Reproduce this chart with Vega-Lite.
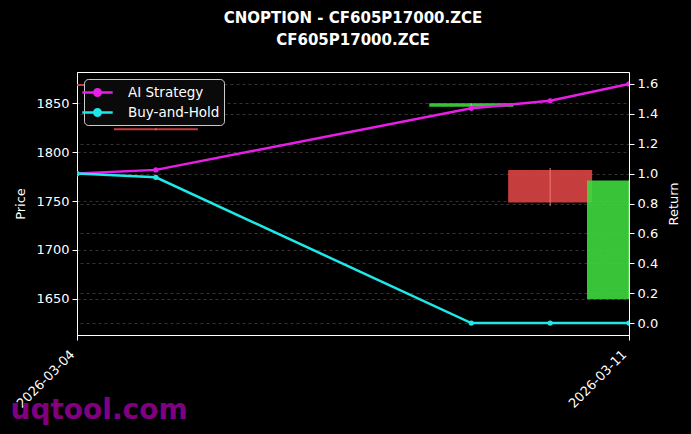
{
  "$schema": "https://vega.github.io/schema/vega-lite/v6.json",
  "autosize": {"type": "none"},
  "width": 552,
  "height": 263,
  "padding": {"left": 77, "top": 72, "right": 62, "bottom": 99},
  "background": "#000000",
  "title": {
    "text": ["CNOPTION - CF605P17000.ZCE", "CF605P17000.ZCE"],
    "font": "DejaVu Sans",
    "fontSize": 15,
    "fontWeight": "bold",
    "color": "#ffffff",
    "lineHeight": 22,
    "anchor": "middle",
    "offset": 24
  },
  "config": {
    "view": {"stroke": "#ffffff", "strokeWidth": 1},
    "axis": {
      "labelFont": "DejaVu Sans",
      "labelFontSize": 13,
      "labelColor": "#ffffff",
      "titleFont": "DejaVu Sans",
      "titleFontSize": 13,
      "titleFontWeight": "normal",
      "titleColor": "#ffffff",
      "domainColor": "#ffffff",
      "tickColor": "#ffffff",
      "tickSize": 5,
      "labelPadding": 3,
      "gridColor": "#555555",
      "gridDash": [3, 3],
      "gridWidth": 0.6
    }
  },
  "datasets": {
    "candles": [
      {"date": "2026-03-04", "open": 1869.7, "high": 1869.7, "low": 1867.7, "close": 1867.7},
      {"date": "2026-03-05", "open": 1824.4, "high": 1824.4, "low": 1822.4, "close": 1822.4},
      {"date": "2026-03-09", "open": 1846.5, "high": 1850.0, "low": 1846.5, "close": 1850.0},
      {"date": "2026-03-10", "open": 1781.8, "high": 1783.8, "low": 1745.0, "close": 1748.4},
      {"date": "2026-03-11", "open": 1649.6, "high": 1770.9, "low": 1649.6, "close": 1770.9}
    ],
    "returns": [
      {"date": "2026-03-04", "series": "AI Strategy", "value": 1.0},
      {"date": "2026-03-05", "series": "AI Strategy", "value": 1.025},
      {"date": "2026-03-09", "series": "AI Strategy", "value": 1.437},
      {"date": "2026-03-10", "series": "AI Strategy", "value": 1.487},
      {"date": "2026-03-11", "series": "AI Strategy", "value": 1.6},
      {"date": "2026-03-04", "series": "Buy-and-Hold", "value": 1.0},
      {"date": "2026-03-05", "series": "Buy-and-Hold", "value": 0.975},
      {"date": "2026-03-09", "series": "Buy-and-Hold", "value": 0.0},
      {"date": "2026-03-10", "series": "Buy-and-Hold", "value": 0.0},
      {"date": "2026-03-11", "series": "Buy-and-Hold", "value": 0.0}
    ]
  },
  "encoding": {
    "x": {
      "field": "date",
      "type": "temporal",
      "scale": {
        "type": "utc",
        "domain": [
          {"year": 2026, "month": 3, "date": 4, "utc": true},
          {"year": 2026, "month": 3, "date": 11, "utc": true}
        ],
        "nice": false,
        "padding": 0
      },
      "axis": {
        "values": [
          {"year": 2026, "month": 3, "date": 4, "utc": true},
          {"year": 2026, "month": 3, "date": 11, "utc": true}
        ],
        "format": "%Y-%m-%d",
        "labelAngle": -45,
        "labelAlign": "right",
        "labelBaseline": "bottom",
        "labelPadding": 17,
        "labelFlush": false,
        "labelOverlap": false,
        "grid": false,
        "title": "uqtool.com",
        "titleColor": "#800080",
        "titleFontSize": 28,
        "titleFontWeight": "bold",
        "titleAlign": "left",
        "titleBaseline": "alphabetic",
        "titleAnchor": "start",
        "titleX": -67,
        "titleY": 83
      }
    }
  },
  "layer": [
    {
      "layer": [
        {
          "data": {"name": "candles"},
          "mark": {"type": "bar", "width": 84, "clip": true, "opacity": 0.9},
          "encoding": {
            "y": {
              "field": "open",
              "type": "quantitative",
              "scale": {"domain": [1613, 1882], "nice": false, "zero": false},
              "axis": {
                "title": "Price",
                "values": [1650, 1700, 1750, 1800, 1850],
                "format": "d",
                "grid": true,
                "titlePadding": 8
              }
            },
            "y2": {"field": "close"},
            "color": {
              "condition": {"test": "datum.close >= datum.open", "value": "#3ed83e"},
              "value": "#dc4444"
            }
          }
        },
        {
          "data": {"name": "candles"},
          "mark": {"type": "rule", "clip": true, "strokeWidth": 1},
          "encoding": {
            "y": {"field": "low", "type": "quantitative"},
            "y2": {"field": "high"},
            "color": {
              "condition": {"test": "datum.close >= datum.open", "value": "#6aee6a"},
              "value": "#f07a7a"
            }
          }
        }
      ]
    },
    {
      "data": {"name": "returns"},
      "mark": {
        "type": "line",
        "strokeWidth": 2.5,
        "clip": true,
        "point": {"filled": true, "size": 28}
      },
      "encoding": {
        "y": {
          "field": "value",
          "type": "quantitative",
          "scale": {"domain": [-0.08, 1.68], "nice": false, "zero": false},
          "axis": {
            "orient": "right",
            "title": "Return",
            "titleAngle": 270,
            "titleBaseline": "top",
            "values": [0, 0.2, 0.4, 0.6, 0.8, 1.0, 1.2, 1.4, 1.6],
            "format": ".1f",
            "grid": true,
            "titlePadding": 10
          }
        },
        "color": {
          "field": "series",
          "type": "nominal",
          "scale": {
            "domain": ["AI Strategy", "Buy-and-Hold"],
            "range": ["#e81ee8", "#1ee8e8"]
          },
          "legend": {
            "title": null,
            "orient": "top-left",
            "offset": 7,
            "fillColor": "#0a0a0a",
            "strokeColor": "#cccccc",
            "cornerRadius": 4,
            "padding": 4,
            "labelFont": "DejaVu Sans",
            "labelFontSize": 13.5,
            "labelColor": "#ffffff",
            "labelOffset": 21,
            "rowPadding": 2,
            "symbolType": "M-1.9,0H1.9M-0.4,0A0.4,0.4,0,1,1,0.4,0A0.4,0.4,0,1,1,-0.4,0",
            "symbolSize": 256,
            "symbolStrokeWidth": 2.5,
            "encode": {
              "symbols": {
                "update": {"fill": {"scale": "color", "field": "value"}}
              }
            }
          }
        }
      }
    }
  ],
  "resolve": {"scale": {"y": "independent"}, "axis": {"y": "independent"}}
}
